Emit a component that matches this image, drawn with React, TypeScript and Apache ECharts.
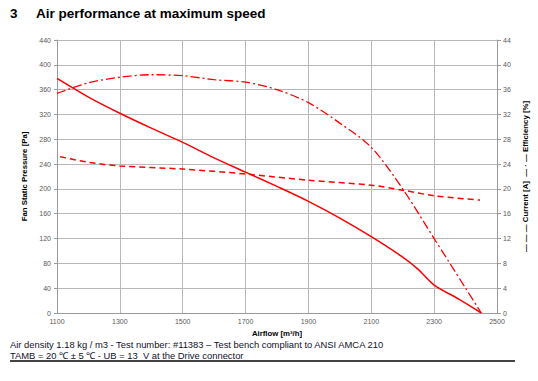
import React, { useEffect, useRef } from "react";
import * as echarts from "echarts";

const pressureAirflow = [1100, 1200, 1300, 1400, 1500, 1600, 1700, 1800, 1900, 2000, 2100, 2200, 2250, 2300, 2380, 2450];
const pressureValues = [378, 348, 322, 298, 275, 250, 227, 204, 180, 153, 123, 90, 70, 45, 22, 0];

const currentAirflow = [1110, 1200, 1300, 1500, 1700, 1900, 2100, 2200, 2300, 2446];
const currentValues = [25.2, 24.3, 23.7, 23.2, 22.4, 21.4, 20.6, 19.8, 18.9, 18.2];

const efficiencyAirflow = [1100, 1200, 1300, 1400, 1500, 1600, 1700, 1800, 1900, 2000, 2100, 2200, 2300, 2400, 2450];
const efficiencyValues = [35.4, 37.1, 38.0, 38.4, 38.25, 37.6, 37.2, 36.0, 33.9, 30.6, 26.7, 20.0, 12.0, 4.0, 0];

const xTicks = [1100, 1300, 1500, 1700, 1900, 2100, 2300, 2500];

const zip = (xs: number[], ys: number[]) => xs.map((x, i) => [x, ys[i]]);

export default function App() {
  const ref = useRef<HTMLDivElement>(null);
  useEffect(() => {
    const chart = echarts.init(ref.current!, null, { renderer: "svg" });
    const labelStyle = { color: "#595959", fontSize: 7, fontFamily: "Liberation Sans" };
    const nameStyle = { color: "#000", fontSize: 7.8, fontFamily: "Liberation Sans", fontWeight: "bold" as const };
    chart.setOption({
      animation: false,
      backgroundColor: "#fff",
      grid: { left: 57, right: 41, top: 40, bottom: 68 },
      xAxis: {
        type: "value",
        min: 1100,
        max: 2500,
        interval: 100,
        name: "Airflow [m³/h]",
        nameLocation: "middle",
        nameGap: 16,
        nameTextStyle: nameStyle,
        axisLine: { show: true, lineStyle: { color: "#9a9a9a" } },
        axisTick: { show: false },
        axisLabel: {
          ...labelStyle,
          margin: 5,
          formatter: (v: number) => (xTicks.includes(v) ? String(v) : ""),
        },
        splitLine: { show: true, lineStyle: { color: ["#b8b8b8", "rgba(0,0,0,0)"], width: 1 } },
      },
      yAxis: [
        {
          type: "value",
          min: 0,
          max: 440,
          interval: 40,
          name: "Fan Static Pressure [Pa]",
          nameLocation: "middle",
          nameGap: 24,
          nameTextStyle: nameStyle,
          axisLine: { show: true, lineStyle: { color: "#9a9a9a" } },
          axisTick: { show: true, length: 3, lineStyle: { color: "#9a9a9a" } },
          axisLabel: { ...labelStyle, margin: 6 },
          splitLine: { show: true, lineStyle: { color: "#b8b8b8", width: 1 } },
        },
        {
          type: "value",
          min: 0,
          max: 44,
          interval: 4,
          position: "right",
          name: "— — — Current [A]  — · — Efficiency [%]",
          nameLocation: "middle",
          nameGap: 19,
          nameTextStyle: nameStyle,
          axisLine: { show: true, lineStyle: { color: "#9a9a9a" } },
          axisTick: { show: true, length: 4, lineStyle: { color: "#9a9a9a" } },
          axisLabel: { ...labelStyle, margin: 6 },
          splitLine: { show: false },
        },
      ],
      series: [
        {
          type: "line",
          name: "Pressure",
          yAxisIndex: 0,
          data: zip(pressureAirflow, pressureValues),
          smooth: 0.3,
          showSymbol: false,
          lineStyle: { color: "#ff0000", width: 1.5 },
        },
        {
          type: "line",
          name: "Current",
          yAxisIndex: 1,
          data: zip(currentAirflow, currentValues),
          smooth: 0.3,
          showSymbol: false,
          lineStyle: { color: "#ff0000", width: 1.5, type: [6, 4] },
        },
        {
          type: "line",
          name: "Efficiency",
          yAxisIndex: 1,
          data: zip(efficiencyAirflow, efficiencyValues),
          smooth: 0.3,
          showSymbol: false,
          lineStyle: { color: "#ff0000", width: 1.3, type: [9, 3, 2, 3] },
        },
      ],
      graphic: [
        {
          type: "text",
          left: 10,
          top: 6,
          style: { text: "3", fontSize: 13.5, fontWeight: "bold", fontFamily: "Liberation Sans", fill: "#000" },
        },
        {
          type: "text",
          left: 36,
          top: 6,
          style: { text: "Air performance at maximum speed", fontSize: 13.5, fontWeight: "bold", fontFamily: "Liberation Sans", fill: "#000" },
        },
        {
          type: "text",
          left: 10,
          top: 340,
          style: {
            text: "Air density 1.18 kg / m3 - Test number: #11383 – Test bench compliant to ANSI AMCA 210",
            fontSize: 9.4,
            fontFamily: "Liberation Sans",
            fill: "#10102a",
          },
        },
        {
          type: "text",
          left: 10,
          top: 351,
          style: {
            text: "TAMB = 20 ℃ ± 5 ℃ - UB = 13  V at the Drive connector",
            fontSize: 9.4,
            fontFamily: "Liberation Sans",
            fill: "#10102a",
          },
        },
        {
          type: "line",
          shape: { x1: 10, y1: 361, x2: 515, y2: 361 },
          style: { stroke: "#444", lineWidth: 2 },
        },
      ],
    });
    return () => chart.dispose();
  }, []);
  return (
    <div
      ref={ref}
      style={{ position: "absolute", left: 0, top: 0, width: 538, height: 381, background: "#fff" }}
    />
  );
}
